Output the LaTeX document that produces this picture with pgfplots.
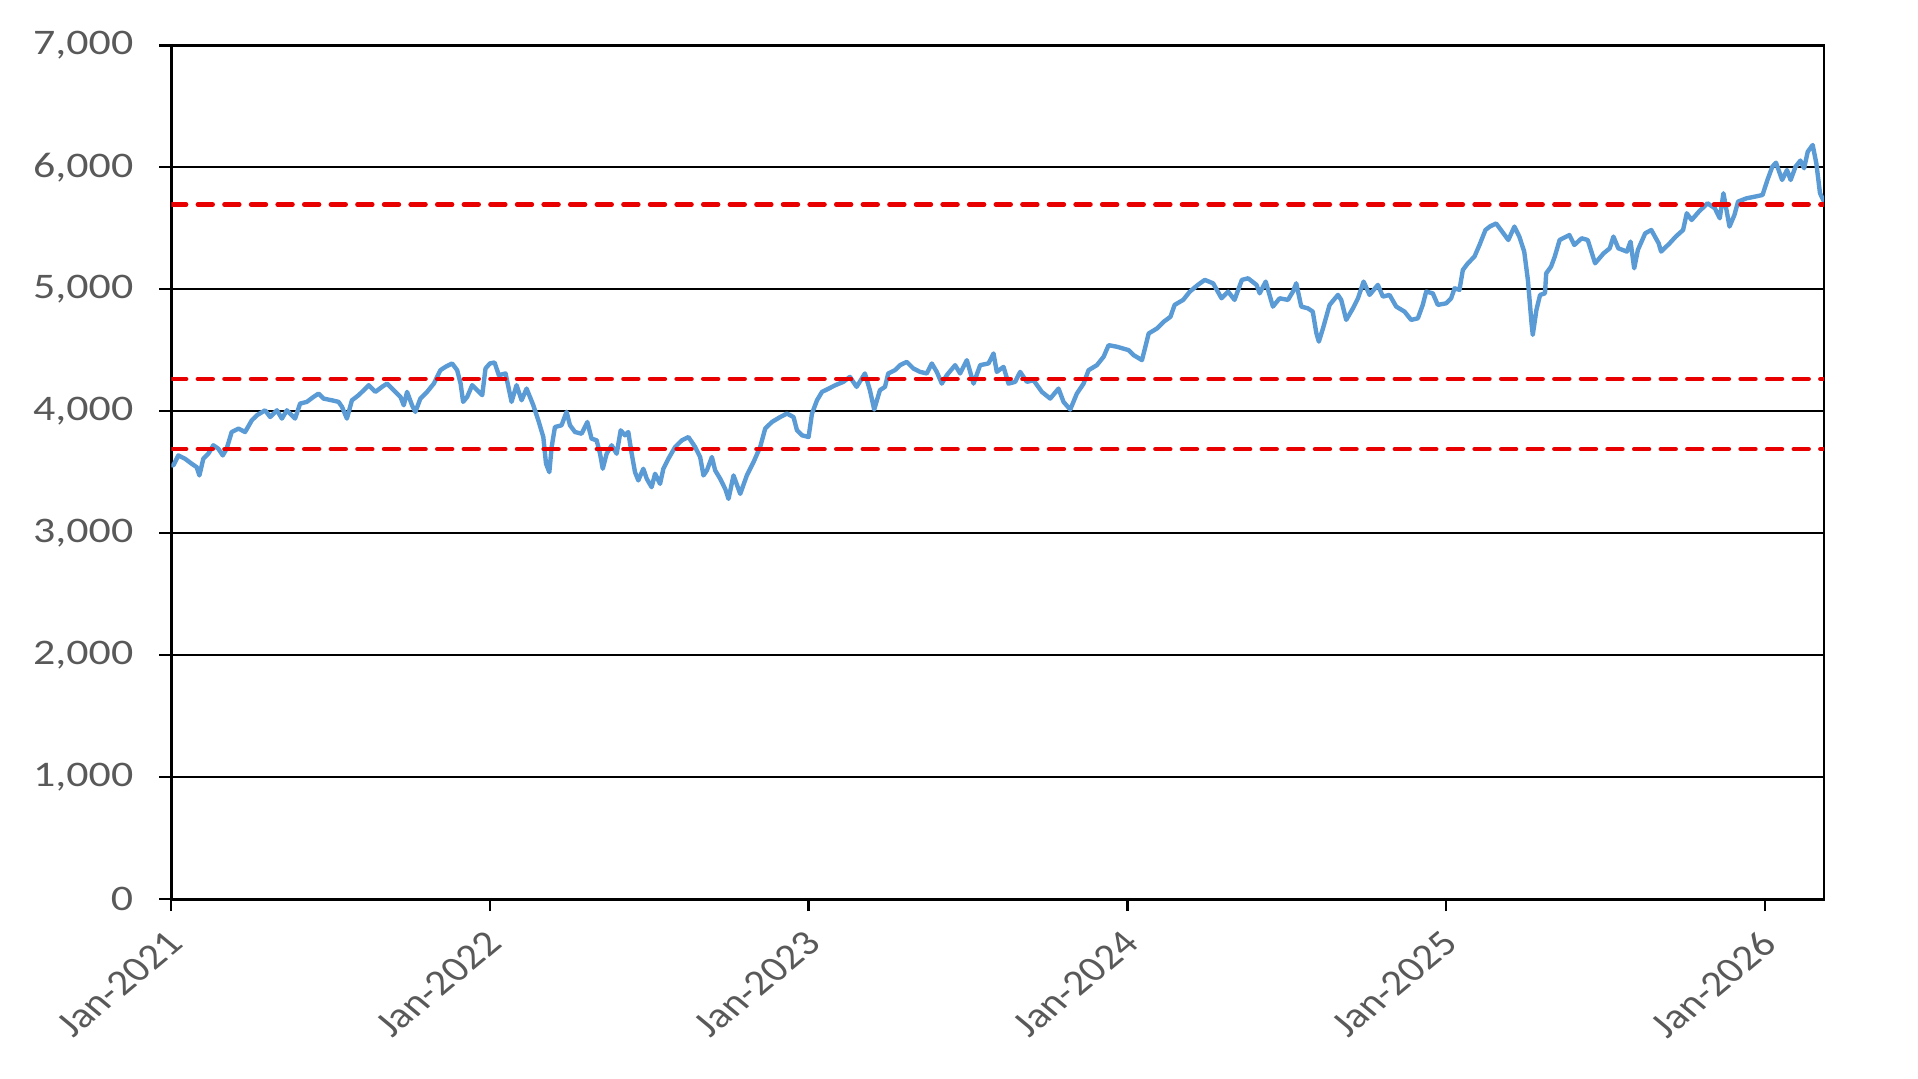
\documentclass[border=0pt]{standalone}
\usepackage{fontspec}
\setmainfont{Carlito}[FakeStretch=1.22]
\newfontfamily\plainfont{Carlito}
\usepackage{pgfplots}
\pgfplotsset{compat=1.18}
\definecolor{lblue}{RGB}{91,155,213}
\definecolor{dred}{RGB}{232,0,0}
\definecolor{tgray}{RGB}{89,89,89}
\pgfplotstableread{
x y
0.0000 3560
0.0065 3556
0.0222 3638
0.0430 3611
0.0640 3570
0.0798 3542
0.0882 3474
0.1005 3611
0.1162 3652
0.1319 3721
0.1477 3693
0.1615 3638
0.1737 3693
0.1895 3830
0.2109 3858
0.2316 3830
0.2527 3926
0.2685 3967
0.2945 4008
0.3103 3953
0.3314 4008
0.3471 3940
0.3628 4008
0.3885 3940
0.4042 4063
0.4253 4077
0.4464 4118
0.4621 4145
0.4779 4104
0.5039 4090
0.5250 4077
0.5358 4036
0.5511 3940
0.5668 4090
0.5879 4132
0.6090 4186
0.6194 4214
0.6405 4159
0.6612 4200
0.6769 4227
0.6980 4173
0.7191 4118
0.7295 4049
0.7398 4159
0.7555 4049
0.7659 3995
0.7816 4104
0.8027 4159
0.8238 4227
0.8445 4337
0.8602 4364
0.8813 4392
0.8970 4337
0.9078 4227
0.9158 4077
0.9285 4118
0.9442 4214
0.9600 4173
0.9757 4132
0.9860 4351
0.9998 4392
1.0144 4400
1.0278 4296
1.0489 4310
1.0677 4077
1.0834 4214
1.0992 4090
1.1149 4186
1.1360 4049
1.1517 3926
1.1674 3789
1.1759 3570
1.1862 3501
1.1935 3707
1.2039 3871
1.2246 3885
1.2403 3995
1.2511 3885
1.2668 3830
1.2875 3816
1.3055 3912
1.3189 3775
1.3347 3762
1.3454 3652
1.3538 3529
1.3661 3652
1.3818 3721
1.3975 3652
1.4102 3844
1.4236 3803
1.4340 3830
1.4447 3652
1.4551 3501
1.4654 3433
1.4812 3529
1.4919 3447
1.5072 3378
1.5180 3488
1.5337 3405
1.5441 3529
1.5598 3611
1.5809 3707
1.6020 3762
1.6227 3789
1.6438 3707
1.6595 3625
1.6699 3474
1.6806 3515
1.6963 3625
1.7067 3515
1.7224 3447
1.7381 3364
1.7485 3282
1.7642 3474
1.7853 3323
1.8060 3474
1.8271 3584
1.8478 3707
1.8636 3858
1.8846 3912
1.9107 3953
1.9318 3981
1.9525 3953
1.9633 3844
1.9790 3803
1.9997 3789
2.0104 3981
2.0261 4090
2.0419 4159
2.0630 4186
2.0837 4214
2.1089 4241
2.1293 4282
2.1504 4200
2.1765 4310
2.1922 4173
2.2056 4014
2.2236 4173
2.2394 4200
2.2497 4310
2.2708 4337
2.2866 4378
2.3077 4405
2.3284 4351
2.3495 4323
2.3706 4310
2.3863 4392
2.4020 4323
2.4177 4227
2.4334 4296
2.4595 4378
2.4753 4310
2.4963 4419
2.5174 4227
2.5381 4378
2.5642 4392
2.5800 4474
2.5903 4323
2.6114 4364
2.6271 4227
2.6478 4241
2.6636 4323
2.6847 4241
2.7054 4255
2.7318 4159
2.7579 4104
2.7840 4186
2.7997 4077
2.8208 4014
2.8415 4145
2.8626 4227
2.8783 4337
2.9044 4378
2.9255 4447
2.9412 4542
2.9673 4529
3.0041 4501
3.0198 4460
3.0459 4419
3.0670 4638
3.0931 4679
3.1142 4734
3.1353 4775
3.1483 4872
3.1752 4913
3.1959 4981
3.2212 5036
3.2430 5077
3.2691 5049
3.2956 4926
3.3163 4981
3.3363 4913
3.3593 5077
3.3788 5090
3.4053 5036
3.4153 4967
3.4341 5063
3.4567 4858
3.4778 4926
3.5039 4913
3.5196 4981
3.5300 5049
3.5457 4858
3.5664 4844
3.5817 4817
3.5932 4639
3.6009 4571
3.6139 4680
3.6346 4872
3.6607 4954
3.6711 4913
3.6868 4749
3.7079 4844
3.7236 4926
3.7413 5063
3.7600 4954
3.7861 5036
3.8018 4940
3.8226 4954
3.8437 4858
3.8698 4817
3.8905 4749
3.9116 4762
3.9269 4872
3.9377 4981
3.9584 4967
3.9741 4872
4.0002 4885
4.0159 4926
4.0267 5008
4.0420 4995
4.0527 5158
4.0685 5213
4.0892 5268
4.1049 5363
4.1237 5486
4.1371 5514
4.1571 5540
4.1954 5404
4.2146 5514
4.2299 5432
4.2453 5309
4.2568 5077
4.2683 4721
4.2721 4626
4.2836 4831
4.2951 4954
4.3104 4967
4.3143 5131
4.3296 5186
4.3411 5268
4.3564 5404
4.3871 5445
4.4025 5363
4.4255 5418
4.4446 5404
4.4677 5213
4.4945 5295
4.5137 5336
4.5252 5432
4.5405 5336
4.5674 5309
4.5789 5391
4.5904 5172
4.6019 5322
4.6249 5459
4.6441 5486
4.6671 5377
4.6748 5309
4.7016 5377
4.7208 5432
4.7438 5486
4.7553 5623
4.7706 5568
4.7936 5637
4.8205 5705
4.8435 5664
4.8589 5582
4.8704 5787
4.8780 5678
4.8895 5514
4.9049 5609
4.9164 5719
4.9432 5746
4.9701 5760
4.9931 5773
5.0084 5896
5.0238 6005
5.0353 6038
5.0545 5896
5.0698 5978
5.0813 5896
5.0967 6005
5.1120 6055
5.1235 5992
5.1350 6128
5.1504 6183
5.1619 6033
5.1734 5787
5.1860 5719
}\spx
\begin{document}
\begin{tikzpicture}
\begin{axis}[
  at={(0,0)}, anchor=south west,
  scale only axis, width=826.4pt, height=427pt,
  xmin=0, xmax=5.186, ymin=0, ymax=7000,
  xtick={0,1,2,3,4,5},
  xticklabels={Jan-2021,Jan-2022,Jan-2023,Jan-2024,Jan-2025,Jan-2026},
  ytick={0,1000,2000,3000,4000,5000,6000,7000},
  ymajorgrids, grid style={black, line width=1.1pt},
  axis line style={black, line width=1.4pt},
  tick style={black, line width=1.2pt},
  tick align=outside, tick pos=left, major tick length=6pt,
  yticklabel style={font=\fontsize{18}{21}\selectfont, text=tgray, xshift=-9.5pt},
  xticklabel style={font=\plainfont\fontsize{18}{21}\selectfont, text=tgray, xshift=-3pt, yshift=-4pt, xscale=1.2, rotate=45, anchor=north east},
  /pgf/number format/1000 sep={,},
  /pgf/number format/assume math mode=true,
]
\addplot[lblue, line width=2.2pt, line join=round] table[x=x,y=y] {\spx};
\addplot[dred, line width=2.3pt, dash pattern=on 7.4pt off 5.9pt, line cap=round] coordinates {(0,5695) (5.186,5695)};
\addplot[dred, line width=2.3pt, dash pattern=on 7.4pt off 5.9pt, line cap=round] coordinates {(0,4265) (5.186,4265)};
\addplot[dred, line width=2.3pt, dash pattern=on 7.4pt off 5.9pt, line cap=round] coordinates {(0,3690) (5.186,3690)};
\end{axis}
\pgfresetboundingbox
\path[use as bounding box] (-85.65pt,-89.85pt) rectangle (873.4pt,449.65pt);
\end{tikzpicture}
\end{document}
